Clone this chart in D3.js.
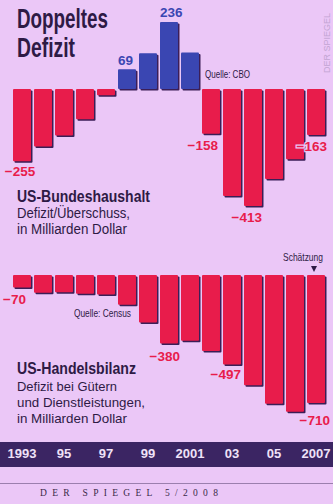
<!DOCTYPE html>
<html>
<head>
<meta charset="utf-8">
<script src="https://cdn.jsdelivr.net/npm/d3@7"></script>
<style>
  html, body { margin: 0; padding: 0; background: #ebc7f7; }
  svg { display: block; }
  .narrow { font-family: "Liberation Sans", Arial, sans-serif; }
  .val { font-family: "Liberation Sans", Arial, sans-serif; font-weight: bold; }
</style>
</head>
<body>
<div id="chart"></div>
<script>
const years = d3.range(1993, 2008);
const budget = [-255, -203, -164, -107, -22, 69, 126, 236, 128, -158, -378, -413, -318, -248, -163];
const trade = [-70, -98, -96, -104, -108, -165, -264, -380, -365, -421, -497, -612, -714, -759, -710];
const tickYears = [1993, 1995, 1997, 1999, 2001, 2003, 2005, 2007];
const budgetLabels = [1993, 1998, 2000, 2002, 2004, 2007];
const tradeLabels = [1993, 2000, 2003, 2007];

const width = 333;
const height = 504;
const bg = '#ebc7f7';
const dark = '#2e1a45';
const red = '#e81c4b';
const blue = '#3a46b2';
const shadow = '#3b1e57';

const svg = d3.select('#chart')
  .append('svg')
  .attr('width', width)
  .attr('height', height);

svg.append('rect')
  .attr('width', width)
  .attr('height', height)
  .attr('fill', bg);

const x = d3.scaleBand()
  .domain(years)
  .range([13, 325])
  .paddingInner(0.143);

const yBudget = d3.scaleLinear()
  .domain([-413, 236])
  .range([206, 22]);

const yTrade = d3.scaleLinear()
  .domain([-710, 0])
  .range([403, 275]);

function drawBars(values, y, colour) {
  const rows = years.map((year, i) => ({ year, value: values[i] }));
  const g = svg.append('g');
  const top = d => Math.min(y(d.value), y(0));
  const h = d => Math.abs(y(d.value) - y(0));

  g.selectAll('rect.shadow')
    .data(rows)
    .join('rect')
    .attr('class', 'shadow')
    .attr('x', d => x(d.year) + 1.5)
    .attr('y', d => top(d) + 1.5)
    .attr('width', x.bandwidth())
    .attr('height', h)
    .attr('rx', 1)
    .attr('fill', shadow);

  g.selectAll('rect.bar')
    .data(rows)
    .join('rect')
    .attr('class', 'bar')
    .attr('x', d => x(d.year))
    .attr('y', top)
    .attr('width', x.bandwidth())
    .attr('height', h)
    .attr('rx', 1)
    .attr('fill', d => colour(d.value));
}

drawBars(budget, yBudget, v => v > 0 ? blue : red);
drawBars(trade, yTrade, () => red);

// value labels
const budgetPlace = {
  1993: { anchor: 'middle', dx: x.bandwidth() / 2 - 2, dy: 15 },
  1998: { anchor: 'start', dx: 0, dy: -4 },
  2000: { anchor: 'start', dx: 0, dy: -5 },
  2002: { anchor: 'end', dx: x.bandwidth() - 2, dy: 16 },
  2004: { anchor: 'end', dx: x.bandwidth(), dy: 16 },
  2007: { anchor: 'end', dx: x.bandwidth() + 2, dy: 16 }
};
const tradePlace = {
  1993: { anchor: 'start', dx: -10, dy: 16 },
  2000: { anchor: 'end', dx: x.bandwidth() + 2, dy: 17 },
  2003: { anchor: 'end', dx: x.bandwidth(), dy: 14 },
  2007: { anchor: 'end', dx: x.bandwidth() + 5, dy: 22 }
};

function fmt(v) {
  return v < 0 ? '\u2212' + Math.abs(v) : String(v);
}

function drawLabels(list, values, y, place) {
  svg.append('g')
    .selectAll('text')
    .data(list)
    .join('text')
    .attr('class', 'val')
    .attr('font-size', 13.5)
    .attr('x', d => x(d) + place[d].dx)
    .attr('y', d => y(values[years.indexOf(d)]) + place[d].dy)
    .attr('text-anchor', d => place[d].anchor)
    .attr('fill', d => values[years.indexOf(d)] > 0 ? blue : red)
    .attr('stroke', bg)
    .attr('stroke-width', 2.5)
    .attr('paint-order', 'stroke')
    .text(d => fmt(values[years.indexOf(d)]));
}

drawLabels(budgetLabels, budget, yBudget, budgetPlace);
drawLabels(tradeLabels, trade, yTrade, tradePlace);

// squeezed text helper (the original uses a condensed face)
function squeezed(x0, y0, str, size, bold, len, anchor) {
  return svg.append('text')
    .attr('class', 'narrow')
    .attr('x', x0)
    .attr('y', y0)
    .attr('font-size', size)
    .attr('font-weight', bold ? 'bold' : 'normal')
    .attr('text-anchor', anchor || 'start')
    .attr('fill', dark)
    .attr('textLength', len)
    .attr('lengthAdjust', 'spacingAndGlyphs')
    .text(str);
}

// titles
squeezed(17, 28, 'Doppeltes', 27, true, 91);
squeezed(17, 57, 'Defizit', 27, true, 58);

squeezed(17, 202, 'US-Bundeshaushalt', 16, true, 133);
squeezed(17, 218, 'Defizit/Überschuss,', 14, false, 113);
squeezed(17, 234, 'in Milliarden Dollar', 14, false, 110);

squeezed(17, 374, 'US-Handelsbilanz', 16, true, 119);
squeezed(17, 391, 'Defizit bei Gütern', 13.5, false, 100);
squeezed(17, 407, 'und Dienstleistungen,', 13.5, false, 128);
squeezed(17, 423, 'in Milliarden Dollar', 13.5, false, 110);

// sources and notes
squeezed(205, 78, 'Quelle: CBO', 10.5, false, 45);
squeezed(74, 317, 'Quelle: Census', 10.5, false, 57);
squeezed(323, 261, 'Schätzung', 10.5, false, 40, 'end');

const tx = x(2007) + x.bandwidth() / 2 - 2;
svg.append('path')
  .attr('d', `M${tx - 3},266 L${tx + 3},266 L${tx},272 Z`)
  .attr('fill', dark);

// axis band
svg.append('rect')
  .attr('x', 0).attr('y', 442)
  .attr('width', width).attr('height', 25)
  .attr('fill', '#3b2563');

const axis = svg.append('g')
  .attr('transform', 'translate(0,446)')
  .call(d3.axisBottom(x)
    .tickValues(tickYears)
    .tickSize(0)
    .tickFormat(d => d === 1993 || d === 2001 || d === 2007 ? String(d) : String(d).slice(2)));
axis.select('.domain').remove();
axis.selectAll('text')
  .attr('class', 'val')
  .attr('font-size', 13)
  .attr('fill', '#efe2f8');

// footer
svg.append('line')
  .attr('x1', 0).attr('x2', width)
  .attr('y1', 483.5).attr('y2', 483.5)
  .attr('stroke', '#9b7fae')
  .attr('stroke-width', 1);

svg.append('text')
  .attr('x', 40).attr('y', 496)
  .attr('font-family', '"Liberation Serif", "DejaVu Serif", serif')
  .attr('font-size', 9.5)
  .attr('letter-spacing', 5.3)
  .attr('fill', '#3a2a48')
  .text('DER SPIEGEL 5/2008');

svg.append('text')
  .attr('transform', 'translate(330,43) rotate(-90)')
  .attr('text-anchor', 'middle')
  .attr('font-family', '"Liberation Sans", sans-serif')
  .attr('font-size', 9)
  .attr('textLength', 60)
  .attr('lengthAdjust', 'spacingAndGlyphs')
  .attr('fill', '#c2a5d3')
  .text('DER SPIEGEL');
</script>
</body>
</html>
